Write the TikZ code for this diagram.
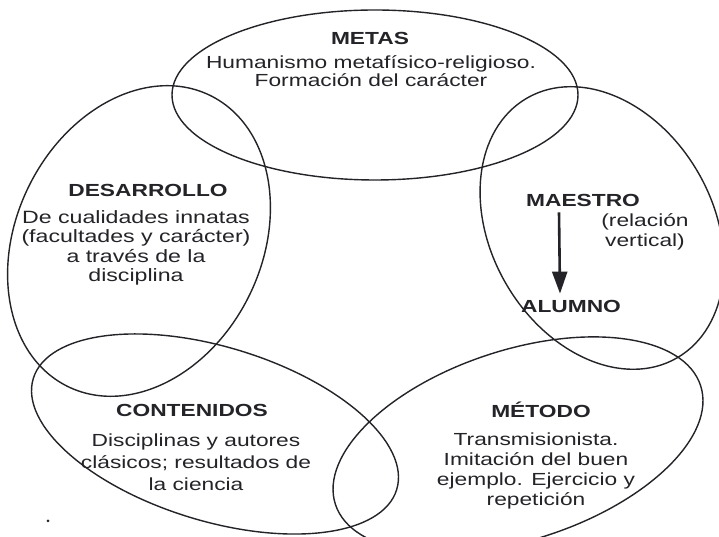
\documentclass[tikz,border=0pt]{standalone}
\usepackage{fontspec}
\setmainfont{Liberation Sans}[FakeStretch=1.3]
\usetikzlibrary{arrows.meta}
\definecolor{ink}{RGB}{35,35,40}
\begin{document}
\begin{tikzpicture}[x=1pt,y=1pt,
  oval/.style={draw=ink, line width=1.4pt},
  ttl/.style={inner sep=0pt, text=ink, font=\fontsize{17.5}{20}\selectfont\bfseries},
  txt/.style={inner sep=0pt, text=ink, align=center},
  arr/.style={draw=ink, line width=2.6pt, -{Triangle[width=15pt,length=22pt]}},
]
\useasboundingbox (0,0) rectangle (719,537);
\clip (0,0) rectangle (719,537);
\fill[white] (0,0) rectangle (719,537);
% ellipses
\draw[oval] (375,442) ellipse [x radius=203, y radius=85];
\draw[oval, rotate around={64:(139,296)}] (139,296) ellipse [x radius=162, y radius=123];
\draw[oval, rotate around={120:(602,309)}] (602,309) ellipse [x radius=150, y radius=111];
\draw[oval, rotate around={-17:(215,103)}] (215,103) ellipse [x radius=190, y radius=87];
\draw[oval, rotate around={18:(518,92)}] (518,92) ellipse [x radius=192, y radius=95];
% texts
\node[ttl] (metas) at (370,499) {METAS};
\node[txt, font=\fontsize{17.5}{18}\selectfont] (metasb) at (371,466) {Humanismo metafísico-religioso.\\Formación del carácter};
\node[ttl] (desa) at (148,347) {DESARROLLO};
\node[txt, font=\fontsize{17.8}{19.5}\selectfont] (desab) at (136,289) {De cualidades innatas\\(facultades y carácter)\\a través de la\\disciplina};
\node[ttl] (maestro) at (583,337) {MAESTRO};
\node[txt, font=\fontsize{17.5}{20}\selectfont] (rel) at (645,305) {(relación\\vertical)};
\node[ttl] (alumno) at (571,231) {ALUMNO};
\draw[arr] ([xshift=-24pt,yshift=-6pt]maestro.south) -- ([xshift=-11pt,yshift=6pt]alumno.north);
\node[ttl] (cont) at (192,127) {CONTENIDOS};
\node[txt, font=\fontsize{17.5}{22}\selectfont] (contb) at (196,75) {Disciplinas y autores\\clásicos; resultados de\\la ciencia};
\node[ttl] (metodo) at (541,127) {MÉTODO};
\node[txt, font=\fontsize{17.5}{20.3}\selectfont] (metodob) at (536,66) {Transmisionista.\\Imitación del buen\\ejemplo. Ejercicio y\\repetición};
\fill[ink] (48,16) circle (1.5pt);
\end{tikzpicture}
\end{document}
